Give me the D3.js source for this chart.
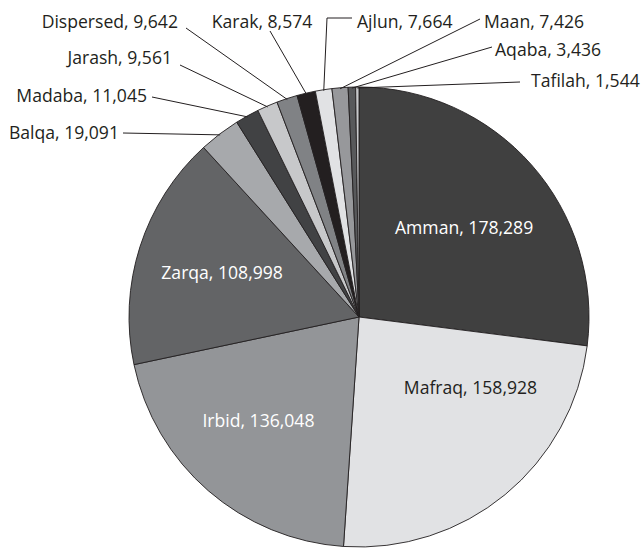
<!DOCTYPE html>
<html>
<head>
<meta charset="utf-8">
<script src="https://cdn.jsdelivr.net/npm/d3@7"></script>
<style>
  body { margin: 0; background: #fff; }
  text { font-family: "Open Sans", sans-serif; }
</style>
</head>
<body>
<div id="chart"></div>
<script>
// Governorates, clockwise from 12 o'clock
const names = ["Amman", "Mafraq", "Irbid", "Zarqa", "Balqa", "Madaba", "Jarash",
  "Dispersed", "Karak", "Ajlun", "Maan", "Aqaba", "Tafilah"];
const values = [178289, 158928, 136048, 108998, 19091, 11045, 9561,
  9642, 8574, 7664, 7426, 3436, 1544];
const fills = ["#404040", "#e1e2e4", "#939598", "#636466", "#a7a9ac", "#414244", "#c7c8ca",
  "#808285", "#231f20", "#e1e2e4", "#97989b", "#58595b", "#c7c8ca"];

// labels drawn inside the big slices (angle shift in degrees, radius as share of r)
const inside = {
  Amman:  {color: "#fff",    shift: 1,   rad: 0.60},
  Mafraq: {color: "#231f20", shift: -18, rad: 0.575},
  Irbid:  {color: "#fff",    shift: 3,   rad: 0.63},
  Zarqa:  {color: "#fff",    shift: 0,   rad: 0.625}
};

// outside labels: text anchor point, side, leader start, optional elbow
const outside = {
  Balqa:     {x: 119, y: 139, anchor: "end",    lx: 123, ly: 133},
  Madaba:    {x: 147, y: 102, anchor: "end",    lx: 152, ly: 97},
  Jarash:    {x: 172, y: 64,  anchor: "end",    lx: 180, ly: 65},
  Dispersed: {x: 178, y: 28,  anchor: "end",    lx: 186, ly: 28},
  Karak:     {x: 262, y: 28,  anchor: "middle", lx: 270, ly: 31},
  Ajlun:     {x: 357, y: 28,  anchor: "start",  lx: 352, ly: 18, ex: 327, ey: 18},
  Maan:      {x: 484, y: 28,  anchor: "start",  lx: 480, ly: 19},
  Aqaba:     {x: 495, y: 56,  anchor: "start",  lx: 492, ly: 47},
  Tafilah:   {x: 531, y: 87,  anchor: "start",  lx: 520, ly: 82}
};

const W = 641, H = 550;
const cx = 359, cy = 317, r = 230;
const fontSize = 17.6;

const svg = d3.select("#chart").append("svg")
  .attr("width", W).attr("height", H);

const g = svg.append("g").attr("transform", `translate(${cx},${cy})`);

const data = names.map((n, i) => ({name: n, value: values[i], fill: fills[i]}));
const pie = d3.pie().value(d => d.value).sort(null);
const arcs = pie(data);
const arc = d3.arc().innerRadius(0).outerRadius(r);
const fmt = d3.format(",");

g.selectAll("path.slice")
  .data(arcs)
  .enter().append("path")
  .attr("class", "slice")
  .attr("d", arc)
  .attr("fill", d => d.data.fill)
  .attr("stroke", "#231f20")
  .attr("stroke-width", 0.9)
  .attr("stroke-linejoin", "round");

// inner labels
arcs.filter(d => inside[d.data.name]).forEach(d => {
  const o = inside[d.data.name];
  const a = (d.startAngle + d.endAngle) / 2 + o.shift * Math.PI / 180;
  const rr = r * o.rad;
  g.append("text")
    .attr("x", Math.sin(a) * rr)
    .attr("y", -Math.cos(a) * rr)
    .attr("dy", "0.35em")
    .attr("text-anchor", "middle")
    .attr("font-size", fontSize)
    .attr("fill", o.color)
    .text(d.data.name + ", " + fmt(d.data.value));
});

// outer labels with leader lines
arcs.filter(d => outside[d.data.name]).forEach(d => {
  const o = outside[d.data.name];
  const a = (d.startAngle + d.endAngle) / 2;
  const px = cx + Math.sin(a) * (r - 1);
  const py = cy - Math.cos(a) * (r - 1);
  const pts = [[o.lx, o.ly]];
  if (o.ex !== undefined) pts.push([o.ex, o.ey]);
  pts.push([px, py]);
  svg.append("path")
    .attr("d", d3.line()(pts))
    .attr("fill", "none")
    .attr("stroke", "#231f20")
    .attr("stroke-width", 1);
  svg.append("text")
    .attr("x", o.x).attr("y", o.y)
    .attr("text-anchor", o.anchor)
    .attr("font-size", fontSize)
    .attr("fill", "#231f20")
    .text(d.data.name + ", " + fmt(d.data.value));
});
</script>
</body>
</html>
